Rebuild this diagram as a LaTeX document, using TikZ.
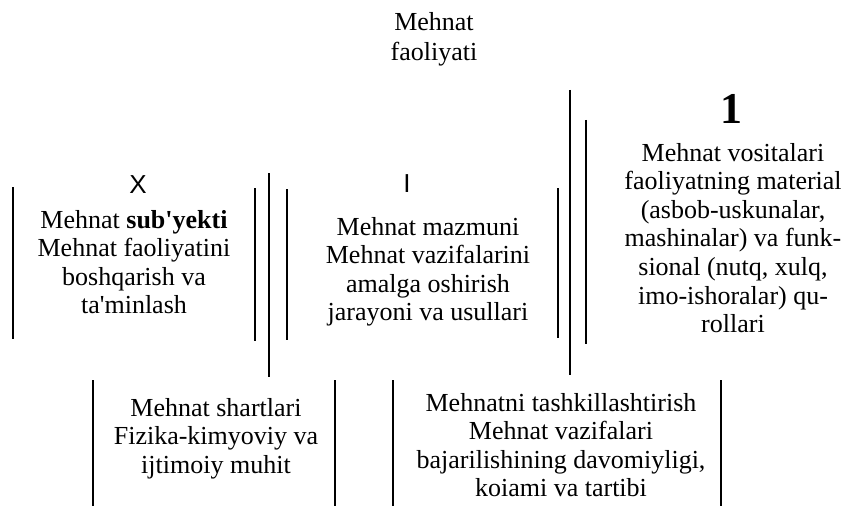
\documentclass[tikz,border=0pt]{standalone}
\usepackage{fontspec}
\newfontfamily\uzfont{Liberation Serif}
\newfontfamily\uzsans{Liberation Sans}
\tikzset{every picture/.style={line width=1.5pt}}
\tikzset{txt/.style={anchor=north, inner sep=0pt, align=center, font=\uzfont\fontsize{19.5}{21.45}\selectfont}}
\tikzset{letter/.style={anchor=base, inner sep=0pt, font=\uzsans\fontsize{19.5}{21.45}\selectfont}}

\begin{document}
\begin{tikzpicture}[x=0.75pt,y=0.75pt,yscale=-1,xscale=1]
\useasboundingbox (0,0) rectangle (855,506);

%Straight Lines
\draw    (12.5,187) -- (12.5,339) ;
%Straight Lines
\draw    (254.5,188) -- (254.5,341) ;
%Straight Lines
\draw    (268.5,173) -- (268.5,377) ;
%Straight Lines
\draw    (287.3,189) -- (287.3,340) ;
%Straight Lines
\draw    (557.7,188) -- (557.7,338) ;
%Straight Lines
\draw    (570,90) -- (570,375) ;
%Straight Lines
\draw    (586.3,120) -- (586.3,344) ;
%Straight Lines
\draw    (92.7,380) -- (92.7,506) ;
%Straight Lines
\draw    (335,380) -- (335,506) ;
%Straight Lines
\draw    (393,380) -- (393,506) ;
%Straight Lines
\draw    (721,380) -- (721,506) ;

% Text Node
\node (title) at (434,11) [txt, font=\uzfont\fontsize{19.5}{22.5}\selectfont] {Mehnat\\faoliyati};
% Text Node
\node (markx) at (138,193) [letter] {X};
% Text Node
\node (subyekt) at (134,209) [txt] {Mehnat \textbf{sub'yekti}\\Mehnat faoliyatini\\boshqarish va\\ta'minlash};
% Text Node
\node (marki) at (407,192) [letter] {I};
% Text Node
\node (mazmun) at (428,216) [txt] {Mehnat mazmuni\\Mehnat vazifalarini\\amalga oshirish\\jarayoni va usullari};
% Text Node
\node (num) at (731.7,123) [anchor=base, inner sep=0pt, font=\uzfont\bfseries\fontsize{33}{36}\selectfont] {1};
% Text Node
\node (vosita) at (733,142) [txt] {Mehnat vositalari\\faoliyatning material\\(asbob-uskunalar,\\mashinalar) va funk-\\sional (nutq, xulq,\\imo-ishoralar) qu-\\rollari};
% Text Node
\node (shart) at (216,397) [txt] {Mehnat shartlari\\Fizika-kimyoviy va\\ijtimoiy muhit};
% Text Node
\node (tashkil) at (561,392) [txt] {Mehnatni tashkillashtirish\\Mehnat vazifalari\\bajarilishining davomiyligi,\\koiami va tartibi};

\end{tikzpicture}
\end{document}
